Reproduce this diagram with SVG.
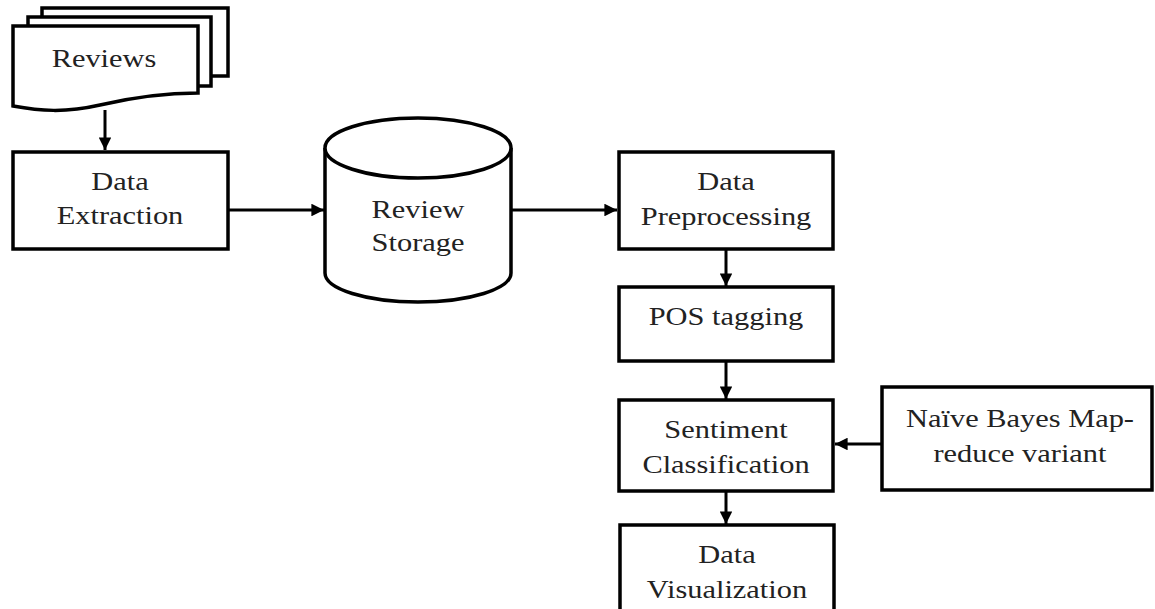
<svg xmlns="http://www.w3.org/2000/svg" width="1155" height="609" viewBox="0 0 1155 609">
<defs>
<style>
.s{fill:#fff;stroke:#000;stroke-width:3.5}
.t{font-family:"Liberation Serif","Times New Roman",serif;font-size:26px;text-anchor:middle;fill:#222}
.c{stroke:#000;stroke-width:3;fill:none}
</style>
<marker id="ah" viewBox="0 0 10 10" refX="10" refY="5" markerWidth="4.2" markerHeight="4.2" orient="auto" markerUnits="strokeWidth">
<path d="M0,0 L10,5 L0,10 Z" fill="#000"/>
</marker>
</defs>
<rect width="1155" height="609" fill="#fff"/>
<g id="reviews">
<rect class="s" x="42" y="8" width="186" height="68"/>
<rect class="s" x="28" y="17" width="183" height="69"/>
<path class="s" d="M13,26 H198 V93 C160,93 130,98 100,105 C65,113 40,111 13,106 Z"/>
<text class="t" transform="translate(104,67) scale(1.17,1)">Reviews</text>
</g>
<g id="extraction">
<rect class="s" x="13" y="152" width="215" height="97"/>
<text class="t" transform="translate(120,190) scale(1.17,1)">Data</text>
<text class="t" transform="translate(120,224) scale(1.17,1)">Extraction</text>
</g>
<g id="storage">
<path class="s" d="M325,148 V273 A93,29 0 0 0 511,273 V148 A93,30 0 0 0 325,148 Z"/>
<path class="s" d="M325,148 A93,30 0 0 0 511,148"/>
<text class="t" transform="translate(418,218) scale(1.17,1)">Review</text>
<text class="t" transform="translate(418,251) scale(1.17,1)">Storage</text>
</g>
<g id="preprocessing">
<rect class="s" x="619" y="152" width="214" height="97"/>
<text class="t" transform="translate(726,190) scale(1.17,1)">Data</text>
<text class="t" transform="translate(726,225) scale(1.17,1)">Preprocessing</text>
</g>
<g id="pos">
<rect class="s" x="619" y="287" width="214" height="74"/>
<text class="t" transform="translate(726,325) scale(1.17,1)">POS tagging</text>
</g>
<g id="sentiment">
<rect class="s" x="619" y="400" width="214" height="91"/>
<text class="t" transform="translate(726,438) scale(1.17,1)">Sentiment</text>
<text class="t" transform="translate(726,473) scale(1.17,1)">Classification</text>
</g>
<g id="visualization">
<rect class="s" x="620" y="525" width="214" height="100"/>
<text class="t" transform="translate(727,563) scale(1.17,1)">Data</text>
<text class="t" transform="translate(727,598) scale(1.17,1)">Visualization</text>
</g>
<g id="naivebayes">
<rect class="s" x="882" y="387" width="270" height="103"/>
<text class="t" transform="translate(1020,427) scale(1.17,1)">Naïve Bayes Map-</text>
<text class="t" transform="translate(1020,462) scale(1.17,1)">reduce variant</text>
</g>
<g id="connectors">
<line class="c" x1="105" y1="110" x2="105" y2="150" marker-end="url(#ah)"/>
<line class="c" x1="228" y1="210" x2="324" y2="210" marker-end="url(#ah)"/>
<line class="c" x1="511" y1="210" x2="617" y2="210" marker-end="url(#ah)"/>
<line class="c" x1="726" y1="249" x2="726" y2="286" marker-end="url(#ah)"/>
<line class="c" x1="726" y1="361" x2="726" y2="399" marker-end="url(#ah)"/>
<line class="c" x1="726" y1="491" x2="726" y2="524" marker-end="url(#ah)"/>
<line class="c" x1="882" y1="444" x2="835" y2="444" marker-end="url(#ah)"/>
</g>
</svg>
